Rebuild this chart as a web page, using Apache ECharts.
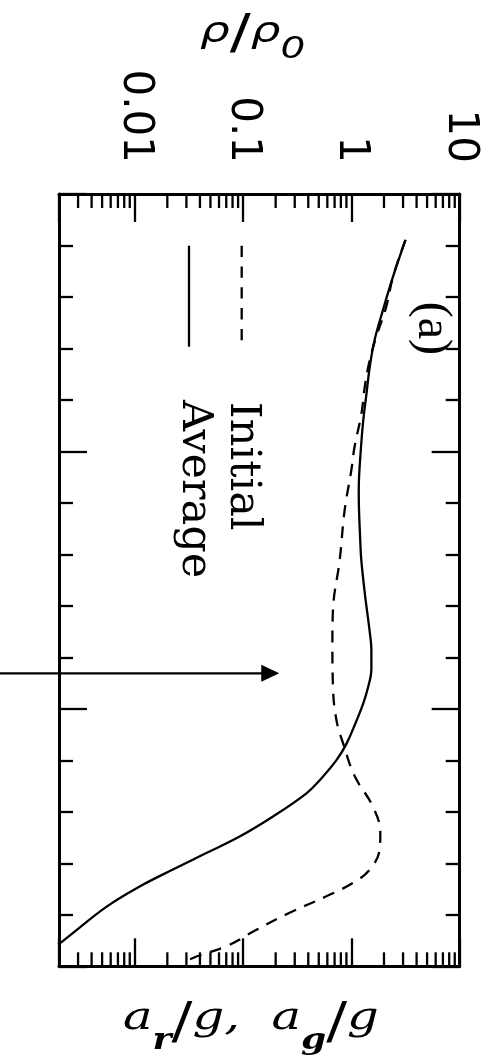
<!DOCTYPE html>
<html>
<head>
<meta charset="utf-8">
<script src="https://cdn.jsdelivr.net/npm/echarts@6/dist/echarts.min.js"></script>
<style>
  html, body { margin: 0; padding: 0; background: #fff; }
  #chart { width: 489px; height: 1056px; }
</style>
</head>
<body>
<div id="chart"></div>
<script>
// Position along the column: 0 at the top edge of the frame, 15 at the bottom
const heightAverage = [0.89, 1.61, 2.25, 2.83, 3.35, 3.87, 4.45, 5.10, 5.55, 5.81, 6.78, 7.11, 7.75, 8.52, 8.85, 9.24, 9.57, 9.89, 10.22, 10.67, 10.99, 11.38, 11.64, 12.09, 12.48, 12.80, 13.12, 13.45, 13.84, 14.35, 14.58];
const rhoAverage    = [3.16, 2.42, 1.96, 1.64, 1.48, 1.38, 1.28, 1.21, 1.175, 1.17, 1.21, 1.235, 1.33, 1.48, 1.53, 1.53, 1.43, 1.29, 1.12, 0.905, 0.731, 0.513, 0.385, 0.189, 0.093, 0.0458, 0.0225, 0.0111, 0.00551, 0.0027, 0.00197];

const heightInitial = [0.89, 1.61, 2.19, 2.77, 3.22, 3.74, 4.26, 4.91, 5.36, 6.14, 7.11, 8.08, 8.72, 9.57, 10.21, 10.66, 11.30, 11.90, 12.41, 12.74, 13.12, 13.38, 13.64, 13.96, 14.29, 14.61, 14.81, 14.90];
const rhoInitial    = [3.16, 2.42, 2.10, 1.70, 1.48, 1.33, 1.24, 1.07, 1.00, 0.867, 0.780, 0.676, 0.668, 0.676, 0.727, 0.836, 1.07, 1.58, 1.85, 1.82, 1.48, 1.035, 0.588, 0.269, 0.133, 0.0702, 0.0371, 0.0299];

const seriesNames = ['Initial', 'Average'];

// Density axis
const RHO_MIN = 0.002, RHO_MAX = 10;
const rhoTickValues = [0.01, 0.1, 1, 10];
const rhoTickLabels = ['0.01', '0.1', '1', '10'];
const rhoMinorTicks = [
  0.003, 0.004, 0.005, 0.006, 0.007, 0.008, 0.009,
  0.02, 0.03, 0.04, 0.05, 0.06, 0.07, 0.08, 0.09,
  0.2, 0.3, 0.4, 0.5, 0.6, 0.7, 0.8, 0.9,
  2, 3, 4, 5, 6, 7, 8, 9
];

// Height axis (unlabelled)
const H_MIN = 0, H_MAX = 15;

// Pointer drawn across the frame at one height: [from, height, tip]
const arrowSpec = [0.00057, 9.31, 0.216];

const INK = '#000';
const LW = 2.3;

const chart = echarts.init(document.getElementById('chart'), null, { renderer: 'canvas' });

const rhoAxisBase = {
  type: 'log',
  logBase: 10,
  min: RHO_MIN,
  max: RHO_MAX,
  axisLine: { show: true, onZero: false, lineStyle: { color: INK, width: 3 } },
  axisTick: { show: true, inside: true, length: 28, lineStyle: { color: INK, width: LW } },
  minorTick: { show: false },
  splitLine: { show: false },
  minorSplitLine: { show: false }
};

const heightAxisBase = {
  type: 'value',
  min: H_MIN,
  max: H_MAX,
  interval: 5,
  inverse: true,
  axisLine: { show: true, onZero: false, lineStyle: { color: INK, width: 3 } },
  axisTick: { show: true, inside: true, length: 28, lineStyle: { color: INK, width: LW } },
  minorTick: { show: true, splitNumber: 5, length: 14, lineStyle: { color: INK, width: LW } },
  axisLabel: { show: false },
  splitLine: { show: false },
  minorSplitLine: { show: false }
};

function rhoLabel(v) {
  const i = rhoTickValues.findIndex(t => Math.abs(Math.log10(t) - Math.log10(v)) < 1e-6);
  return i >= 0 ? rhoTickLabels[i] : '';
}

const option = {
  backgroundColor: '#fff',
  animation: false,
  grid: { left: 59, right: 29.3, top: 194, bottom: 89.7, containLabel: false, outerBoundsMode: 'none' },
  xAxis: [
    Object.assign({}, rhoAxisBase, {
      position: 'top',
      axisLabel: {
        show: true, rotate: 90, margin: 31,
        fontFamily: 'DejaVu Sans', fontSize: 42, color: INK,
        formatter: rhoLabel
      }
    }),
    Object.assign({}, rhoAxisBase, {
      position: 'bottom',
      axisLabel: { show: false }
    })
  ],
  yAxis: [
    Object.assign({}, heightAxisBase, { position: 'left' }),
    Object.assign({}, heightAxisBase, { position: 'right' })
  ],
  series: [
    {
      name: seriesNames[0],
      type: 'line',
      xAxisIndex: 0, yAxisIndex: 0,
      data: rhoInitial.map((r, i) => [r, heightInitial[i]]),
      symbol: 'none', showSymbol: false, smooth: 0.4,
      lineStyle: { color: INK, width: LW, type: [12, 9] },
      silent: true, z: 4
    },
    {
      name: seriesNames[1],
      type: 'line',
      xAxisIndex: 0, yAxisIndex: 0,
      data: rhoAverage.map((r, i) => [r, heightAverage[i]]),
      symbol: 'none', showSymbol: false, smooth: 0.4,
      lineStyle: { color: INK, width: LW, type: 'solid' },
      silent: true, z: 5
    },
    {
      // minor decade ticks on the top and bottom frame edges
      type: 'custom',
      coordinateSystem: 'cartesian2d',
      xAxisIndex: 0, yAxisIndex: 0,
      clip: false, silent: true, z: 3,
      data: rhoMinorTicks.map(v => [v, H_MIN]),
      renderItem: (params, api) => {
        const v = api.value(0);
        const top = api.coord([v, H_MIN]);
        const bot = api.coord([v, H_MAX]);
        const st = { stroke: INK, lineWidth: LW };
        return {
          type: 'group',
          children: [
            { type: 'line', shape: { x1: top[0], y1: top[1], x2: top[0], y2: top[1] + 14 }, style: st },
            { type: 'line', shape: { x1: bot[0], y1: bot[1], x2: bot[0], y2: bot[1] - 14 }, style: st }
          ]
        };
      }
    },
    {
      // horizontal pointer with a filled head
      type: 'custom',
      coordinateSystem: 'cartesian2d',
      xAxisIndex: 0, yAxisIndex: 0,
      clip: false, silent: true, z: 6,
      dimensions: ['from', 'h', 'tip'],
      encode: { x: [0, 2], y: 1 },
      data: [arrowSpec],
      renderItem: (params, api) => {
        const a = api.coord([api.value(0), api.value(1)]);
        const b = api.coord([api.value(2), api.value(1)]);
        const headLen = 18, headHalf = 8.5;
        return {
          type: 'group',
          children: [
            { type: 'line', shape: { x1: a[0], y1: a[1], x2: b[0] - headLen + 2, y2: b[1] }, style: { stroke: INK, lineWidth: LW } },
            { type: 'polygon', shape: { points: [[b[0], b[1]], [b[0] - headLen, b[1] - headHalf], [b[0] - headLen, b[1] + headHalf]] }, style: { fill: INK } }
          ]
        };
      }
    }
  ],
  graphic: [
    // density axis title
    {
      type: 'text', x: 200, y: 33, scaleX: 1.3, silent: true,
      style: {
        text: '{r|ρ}{s|/}{r|ρ}{sub|0}',
        verticalAlign: 'middle', align: 'left', fill: INK,
        rich: {
          r: { fontFamily: 'DejaVu Sans', fontStyle: 'italic', fontSize: 36, fill: INK },
          s: { fontFamily: 'DejaVu Sans', fontSize: 48, fill: INK, padding: [6, 0, 0, 0] },
          sub: { fontFamily: 'DejaVu Sans', fontStyle: 'italic', fontSize: 30, fill: INK, padding: [34, 0, 0, 0] }
        }
      }
    },
    // acceleration title
    {
      type: 'text', x: 123, y: 1019, scaleX: 1.24, silent: true,
      style: {
        text: '{i|a}{sub|r}{s|/}{i|g,  a}{sub|g}{s|/}{i|g}',
        verticalAlign: 'middle', align: 'left', fill: INK,
        rich: {
          i: { fontFamily: 'DejaVu Serif', fontStyle: 'italic', fontSize: 40, fill: INK },
          s: { fontFamily: 'DejaVu Serif', fontSize: 50, fill: INK, padding: [12, 0, 0, 0] },
          sub: { fontFamily: 'DejaVu Serif', fontStyle: 'italic', fontWeight: 'bold', fontSize: 29, fill: INK, padding: [44, 0, 0, 0] }
        }
      }
    },
    // panel tag
    {
      type: 'text', x: 432, y: 301.7, rotation: -Math.PI / 2, silent: true,
      style: { text: '(a)', fontFamily: 'Liberation Serif', fontSize: 48, fill: INK, align: 'left', verticalAlign: 'middle' }
    },
    // key
    {
      type: 'line', silent: true,
      shape: { x1: 241.7, y1: 245.7, x2: 241.7, y2: 346.7 },
      style: { stroke: INK, lineWidth: LW, lineDash: [11.3, 9.5] }
    },
    {
      type: 'line', silent: true,
      shape: { x1: 189, y1: 245.7, x2: 189, y2: 346.7 },
      style: { stroke: INK, lineWidth: LW }
    },
    {
      type: 'text', x: 242.5, y: 401.7, rotation: -Math.PI / 2, silent: true,
      style: { text: seriesNames[0], fontFamily: 'DejaVu Serif', fontSize: 43, fill: INK, align: 'left', verticalAlign: 'middle' }
    },
    {
      type: 'text', x: 194, y: 400, rotation: -Math.PI / 2, silent: true,
      style: { text: seriesNames[1], fontFamily: 'DejaVu Serif', fontSize: 43, fill: INK, align: 'left', verticalAlign: 'middle' }
    }
  ]
};

chart.setOption(option);
</script>
</body>
</html>
